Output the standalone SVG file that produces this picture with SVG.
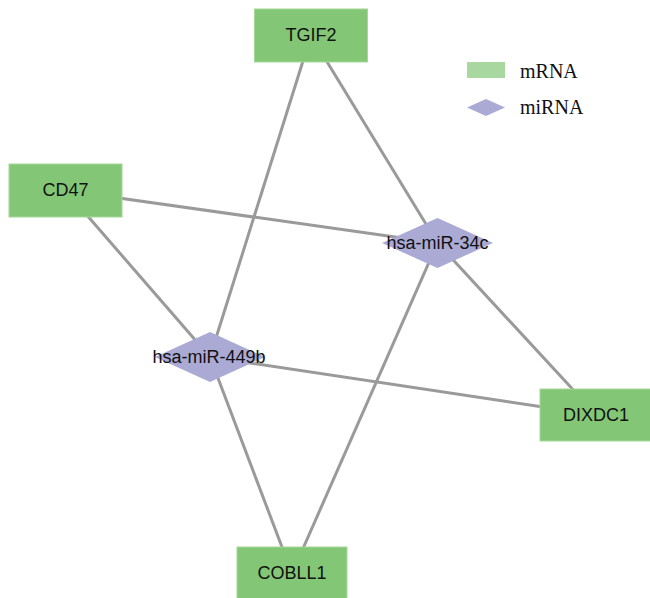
<svg xmlns="http://www.w3.org/2000/svg" width="650" height="598" viewBox="0 0 650 598">
<style>
.box{fill:#83c776;stroke:#a4d898;stroke-width:1}
.dia{fill:#aaaad4}
.lbl{font-family:"Liberation Sans",Arial,sans-serif;font-size:18px;fill:#111;text-anchor:middle;dominant-baseline:central}
.leg{font-family:"Liberation Serif","Times New Roman",serif;font-size:20px;fill:#111}
.edge{stroke:#9a9a9a;stroke-width:3;fill:none}
</style>
<rect width="650" height="598" fill="#ffffff"/>
<g id="connectors">
<line class="edge" x1="311" y1="35.5" x2="210" y2="357"/>
<line class="edge" x1="311" y1="35.5" x2="437.5" y2="243"/>
<line class="edge" x1="65.5" y1="190.5" x2="437.5" y2="243"/>
<line class="edge" x1="65.5" y1="190.5" x2="210" y2="357"/>
<line class="edge" x1="210" y1="357" x2="596.5" y2="415"/>
<line class="edge" x1="210" y1="357" x2="292" y2="573.5"/>
<line class="edge" x1="437.5" y1="243" x2="292" y2="573.5"/>
<line class="edge" x1="437.5" y1="243" x2="596.5" y2="415"/>
</g>
<g id="TGIF2"><rect class="box" x="254.5" y="9" width="113" height="53"/><text class="lbl" x="311" y="35">TGIF2</text></g>
<g id="CD47"><rect class="box" x="9" y="164" width="113" height="53"/><text class="lbl" x="65.5" y="190">CD47</text></g>
<g id="DIXDC1"><rect class="box" x="540" y="389" width="113" height="52"/><text class="lbl" x="596" y="415">DIXDC1</text></g>
<g id="COBLL1"><rect class="box" x="237" y="547" width="110" height="53"/><text class="lbl" x="292" y="573">COBLL1</text></g>
<g id="hsa-miR-34c"><polygon class="dia" points="437.5,218 493,243 437.5,268 382,243"/><text class="lbl" x="437.5" y="243">hsa-miR-34c</text></g>
<g id="hsa-miR-449b"><polygon class="dia" points="210,332 265,357 210,382 155,357"/><text class="lbl" x="209" y="357">hsa-miR-449b</text></g>
<g id="legend">
<rect x="467" y="62" width="38" height="16" fill="#a8d8a0"/>
<polygon points="486,99 505,107.5 486,116 467,107.5" fill="#aaaad4"/>
<text class="leg" x="520" y="78">mRNA</text>
<text class="leg" x="520" y="114">miRNA</text>
</g>
</svg>
